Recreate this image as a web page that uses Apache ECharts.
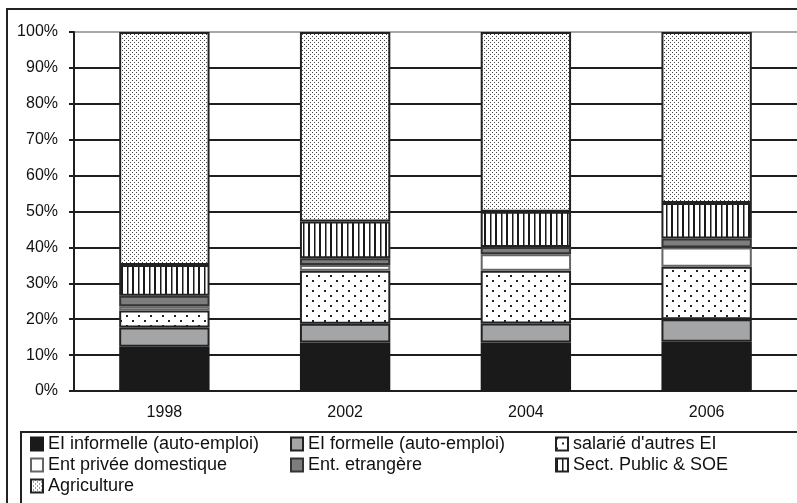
<!DOCTYPE html>
<html>
<head>
<meta charset="utf-8">
<script src="https://cdn.jsdelivr.net/npm/echarts@6/dist/echarts.min.js"></script>
<style>
  html, body { margin: 0; padding: 0; background: #fff; }
  #main { width: 797px; height: 503px; }
</style>
</head>
<body>
<div id="main"></div>
<script>
  // years on the x axis
  let years = ['1998', '2002', '2004', '2006']
  // shares of employment, %
  let informelle = [12.3, 13.5, 13.5, 13.7]
  let formelle = [5.4, 5.2, 5.3, 6.3]
  let salarie = [4.7, 14.8, 14.7, 14.6]
  let privee = [1.2, 1.6, 4.6, 5.4]
  let etrangere = [2.9, 1.9, 2.0, 2.5]
  let publicSoe = [8.6, 10.2, 9.8, 9.9]
  let agriculture = [64.9, 52.8, 50.1, 47.6]

  let names = ['EI informelle (auto-emploi)', 'EI formelle (auto-emploi)', "salarié d'autres EI",
    'Ent privée domestique', 'Ent. etrangère', 'Sect. Public & SOE', 'Agriculture']

  function makeTile(w, h, draw) {
    let c = document.createElement('canvas')
    c.width = w
    c.height = h
    let ctx = c.getContext('2d')
    ctx.fillStyle = '#fff'
    ctx.fillRect(0, 0, w, h)
    draw(ctx)
    return { image: c, repeat: 'repeat' }
  }

  // dense dots (agriculture)
  const densePattern = makeTile(4, 4, function (ctx) {
    ctx.fillStyle = '#444'
    ctx.fillRect(0, 0, 1, 1)
    ctx.fillRect(2, 2, 1, 1)
  })
  // sparse dots (salarie)
  const sparsePattern = makeTile(12, 10, function (ctx) {
    ctx.fillStyle = '#222'
    ctx.fillRect(0, 0, 2, 2)
    ctx.fillRect(6, 5, 2, 2)
  })
  // vertical stripes (public)
  const stripePattern = makeTile(11, 10, function (ctx) {
    ctx.fillStyle = '#1a1a1a'
    ctx.fillRect(0, 0, 2, 10)
    ctx.fillRect(6, 0, 1.5, 10)
  })

  function bar(name, data, fill, border, bw) {
    return {
      name: name,
      type: 'bar',
      stack: 'total',
      barWidth: '50%',
      data: data,
      itemStyle: {
        color: fill,
        borderColor: border,
        borderWidth: bw
      }
    }
  }

  let gridColors = []
  for (let i = 0; i < 10; i++) gridColors.push('#1e1e1e')
  gridColors.push('#a8a8a8')

  function legendCol(left, items) {
    return {
      orient: 'vertical',
      left: left,
      top: 435,
      height: 80,
      padding: 0,
      itemGap: 3,
      itemWidth: 12,
      itemHeight: 13,
      icon: 'rect',
      textStyle: { fontSize: 18, color: '#111', lineHeight: 14 },
      data: items
    }
  }

  const option = {
    backgroundColor: '#fff',
    animation: false,
    textStyle: { fontFamily: 'Liberation Sans, Arial, sans-serif' },
    grid: { left: 74, right: -4, top: 32, bottom: 112 },
    graphic: [
      { type: 'rect', shape: { x: 7, y: 9, width: 800, height: 500 },
        style: { fill: null, stroke: '#222', lineWidth: 2 }, z: 100 },
      { type: 'rect', shape: { x: 21, y: 432, width: 800, height: 100 },
        style: { fill: null, stroke: '#222', lineWidth: 2 }, z: 100 }
    ],
    legend: [
      legendCol(30, [names[0], names[3], names[6]]),
      legendCol(290, [names[1], names[4]]),
      legendCol(555, [names[2], names[5]])
    ],
    xAxis: {
      type: 'category',
      data: years,
      axisLine: { show: true, lineStyle: { color: '#1e1e1e', width: 2 } },
      axisTick: { show: false },
      axisLabel: { color: '#111', fontSize: 16, margin: 14 }
    },
    yAxis: {
      type: 'value',
      min: 0,
      max: 100,
      interval: 10,
      axisLine: { show: true, lineStyle: { color: '#1e1e1e', width: 2 } },
      axisTick: { show: true, length: 5, lineStyle: { color: '#1e1e1e', width: 2 } },
      axisLabel: { color: '#111', fontSize: 16, margin: 16, formatter: '{value}%' },
      splitLine: { show: true, lineStyle: { color: gridColors, width: 2 } }
    },
    series: [
      bar(names[0], informelle, '#1a1a1a', '#1a1a1a', 2),
      bar(names[1], formelle, '#a3a5a7', '#222', 2),
      bar(names[2], salarie, sparsePattern, '#222', 2),
      bar(names[3], privee, '#fff', '#666', 2),
      bar(names[4], etrangere, '#7d7d7d', '#333', 2),
      bar(names[5], publicSoe, stripePattern, '#222', 2),
      bar(names[6], agriculture, densePattern, '#222', 2)
    ]
  }

  const chart = echarts.init(document.getElementById('main'))
  chart.setOption(option)
</script>
</body>
</html>
